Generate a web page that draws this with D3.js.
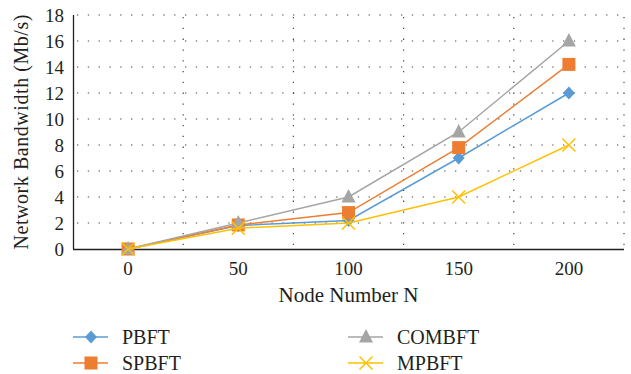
<!DOCTYPE html>
<html>
<head>
<meta charset="utf-8">
<script src="https://cdn.jsdelivr.net/npm/d3@7/dist/d3.min.js"></script>
<style>
  html, body { margin: 0; padding: 0; background: #fff; }
  svg { display: block; }
  svg text { font-family: "Liberation Serif", "Times New Roman", serif !important; }
</style>
</head>
<body>
<svg id="chart" width="631" height="374"></svg>
<script>
// Node counts on the x axis
const nodes = [0, 50, 100, 150, 200];
// Bandwidth per protocol (Mb/s)
const pbft   = [0, 1.8, 2.2, 7.0, 12.0];
const spbft  = [0, 1.85, 2.8, 7.8, 14.2];
const combft = [0, 2.0, 4.0, 9.0, 16.0];
const mpbft  = [0, 1.6, 2.0, 4.0, 8.0];
const yTicks = [0, 2, 4, 6, 8, 10, 12, 14, 16, 18];

const series = [
  { name: "PBFT",   values: pbft,   color: "#5B9BD5", marker: "diamond" },
  { name: "SPBFT",  values: spbft,  color: "#ED7D31", marker: "square" },
  { name: "COMBFT", values: combft, color: "#A5A5A5", marker: "triangle" },
  { name: "MPBFT",  values: mpbft,  color: "#FFC000", marker: "cross" }
];

const FONT = "'Liberation Serif', 'Times New Roman', serif";
const INK = "#231f20";
const svg = d3.select("#chart");
const plot = { left: 73, right: 624, top: 15, bottom: 249 };

const x = d3.scaleBand().domain(nodes).range([plot.left, plot.right]).paddingInner(0).paddingOuter(0);
const y = d3.scaleLinear().domain([0, 18]).range([plot.bottom, plot.top]);

// Dotted gridlines
const grid = svg.append("g");
grid.selectAll("line.h").data(yTicks.filter(d => d > 0)).join("line")
  .attr("x1", plot.left + 4).attr("x2", plot.right)
  .attr("y1", d => y(d)).attr("y2", d => y(d))
  .attr("stroke", "#444").attr("stroke-width", 1.2).attr("stroke-dasharray", "1.3,9.5");
const boundaries = nodes.map(n => x(n) + x.bandwidth());
grid.selectAll("line.v").data(boundaries).join("line")
  .attr("x1", d => d).attr("x2", d => d)
  .attr("y1", plot.top + 2).attr("y2", plot.bottom)
  .attr("stroke", "#444").attr("stroke-width", 1.2).attr("stroke-dasharray", "1.3,9.5");

// Y axis
const yAxis = svg.append("g").attr("transform", `translate(${plot.left},0)`)
  .call(d3.axisLeft(y).tickValues(yTicks).tickSize(0).tickPadding(9));
yAxis.attr("font-family", FONT);
yAxis.select(".domain").attr("d", `M0.5,${plot.top}V${plot.bottom}`).attr("stroke", INK).attr("stroke-width", 1.3);
yAxis.selectAll("text").style("font-family", FONT).style("font-size", "19px").attr("fill", INK).attr("dy", "0.34em");

// X axis
const xAxis = svg.append("g").attr("transform", `translate(0,${plot.bottom})`)
  .call(d3.axisBottom(x).tickSize(0));
xAxis.attr("font-family", FONT);
xAxis.select(".domain").attr("d", `M${plot.left},0.5H${plot.right}`).attr("stroke", INK).attr("stroke-width", 1.5);
xAxis.selectAll("text").style("font-family", FONT).style("font-size", "19px").attr("fill", INK)
  .attr("y", 26).attr("dy", 0);

// Axis titles
svg.append("text")
  .attr("transform", `translate(28,${(plot.top + plot.bottom) / 2}) rotate(-90)`)
  .attr("text-anchor", "middle").style("font-family", FONT).style("font-size", "20px").attr("fill", INK)
  .attr("textLength", 235).attr("lengthAdjust", "spacing")
  .text("Network Bandwidth (Mb/s)");
svg.append("text")
  .attr("x", (plot.left + plot.right) / 2).attr("y", 302).attr("text-anchor", "middle")
  .style("font-family", FONT).style("font-size", "21px").attr("fill", INK)
  .text("Node Number N");

// Marker shapes
function drawMarker(g, type, color, cx, cy) {
  if (type === "diamond") {
    g.append("path").attr("d", `M${cx},${cy - 6.5}L${cx + 6},${cy}L${cx},${cy + 6.5}L${cx - 6},${cy}Z`)
      .attr("fill", color);
  } else if (type === "square") {
    g.append("rect").attr("x", cx - 6.5).attr("y", cy - 6.5).attr("width", 13).attr("height", 13).attr("fill", color);
  } else if (type === "triangle") {
    g.append("path").attr("d", `M${cx},${cy - 8}L${cx + 7},${cy + 5.5}L${cx - 7},${cy + 5.5}Z`).attr("fill", color);
  } else if (type === "cross") {
    const r = 6.5;
    g.append("path").attr("d", `M${cx - r},${cy - r}L${cx + r},${cy + r}M${cx - r},${cy + r}L${cx + r},${cy - r}`)
      .attr("stroke", color).attr("stroke-width", 1.5).attr("fill", "none");
  }
}

const cx = d => x(d) + x.bandwidth() / 2;
const line = d3.line().x(d => cx(d[0])).y(d => y(d[1]));

series.forEach(s => {
  const pts = nodes.map((n, i) => [n, s.values[i]]);
  const g = svg.append("g");
  g.append("path").datum(pts).attr("d", line)
    .attr("fill", "none").attr("stroke", s.color).attr("stroke-width", 1.5);
  pts.forEach(p => drawMarker(g, s.marker, s.color, cx(p[0]), y(p[1])));
});

// Legend
const legendPos = [
  { lx: 73, ty: 337 }, { lx: 73, ty: 363 },
  { lx: 348, ty: 337 }, { lx: 348, ty: 363 }
];
series.forEach((s, i) => {
  const p = legendPos[i];
  const g = svg.append("g");
  g.append("line").attr("x1", p.lx).attr("x2", p.lx + 35).attr("y1", p.ty).attr("y2", p.ty)
    .attr("stroke", s.color).attr("stroke-width", 1.5);
  drawMarker(g, s.marker, s.color, p.lx + 18, p.ty);
  g.append("text").attr("x", p.lx + 49).attr("y", p.ty + 7)
    .style("font-family", FONT).style("font-size", "20px").attr("fill", INK).text(s.name);
});
</script>
</body>
</html>
